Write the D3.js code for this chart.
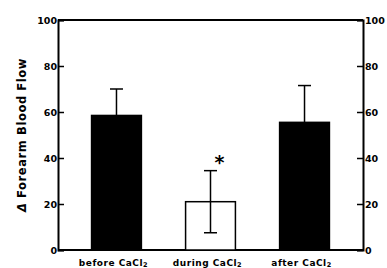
<!DOCTYPE html>
<html>
<head>
<meta charset="utf-8">
<script src="https://cdn.jsdelivr.net/npm/d3@7"></script>
<style>
body { margin: 0; background: #fff; }
text { font-family: "DejaVu Sans", sans-serif; font-weight: bold; fill: #000; }
</style>
</head>
<body>
<svg id="chart" width="387" height="268"></svg>
<script>
const categories = ["before", "during", "after"];
const means = [58.5, 21, 55.5];
const errUp = [70, 34.5, 71.5];
const errDown = [null, 7.5, null];
const filled = [true, false, true];
const yTicks = [0, 20, 40, 60, 80, 100];

const svg = d3.select("#chart"),
	margin = {top: 20, right: 24, bottom: 18, left: 58},
	width = 387,
	height = 268;

const x = d3.scaleBand()
	.domain(categories)
	.range([margin.left, width - margin.right])
	.paddingInner(0.47)
	.paddingOuter(0.357);

const y = d3.scaleLinear()
	.domain([0, 100])
	.range([height - margin.bottom, margin.top]);

// frame: top and bottom lines
const frame = svg.append("g").attr("stroke", "#000").attr("stroke-width", 2);
frame.append("line")
	.attr("x1", margin.left).attr("x2", width - margin.right)
	.attr("y1", y(100)).attr("y2", y(100));
frame.append("line")
	.attr("x1", margin.left).attr("x2", width - margin.right)
	.attr("y1", y(0)).attr("y2", y(0));

const leftAxis = svg.append("g")
	.attr("transform", `translate(${margin.left},0)`)
	.call(d3.axisRight(y).tickValues(yTicks).tickSize(6).tickFormat(""));
leftAxis.select(".domain").attr("stroke-width", 2);
leftAxis.selectAll(".tick line").attr("stroke-width", 1.5);

const rightAxis = svg.append("g")
	.attr("transform", `translate(${width - margin.right},0)`)
	.call(d3.axisLeft(y).tickValues(yTicks).tickSize(6).tickFormat(""));
rightAxis.select(".domain").attr("stroke-width", 2);
rightAxis.selectAll(".tick line").attr("stroke-width", 1.5);

// tick labels
svg.append("g").selectAll("text")
	.data(yTicks)
	.join("text")
	.attr("x", margin.left - 1)
	.attr("y", d => y(d) + 3.5)
	.attr("text-anchor", "end")
	.attr("font-size", 9.5)
	.text(d => d);

svg.append("g").selectAll("text")
	.data(yTicks)
	.join("text")
	.attr("x", width - margin.right + 2)
	.attr("y", d => y(d) + 3.5)
	.attr("text-anchor", "start")
	.attr("font-size", 9.5)
	.text(d => d);

// bars
svg.append("g").selectAll("rect")
	.data(categories)
	.join("rect")
	.attr("x", d => x(d))
	.attr("width", x.bandwidth())
	.attr("y", (d, i) => y(means[i]))
	.attr("height", (d, i) => y(0) - y(means[i]))
	.attr("fill", (d, i) => filled[i] ? "#000" : "#fff")
	.attr("stroke", "#000")
	.attr("stroke-width", 1.5);

// error bars
const cap = 6.5;
const eb = svg.append("g").attr("stroke", "#000").attr("stroke-width", 1.5);
categories.forEach((c, i) => {
	const cx = x(c) + x.bandwidth() / 2;
	const lo = errDown[i] == null ? means[i] : errDown[i];
	eb.append("line")
		.attr("x1", cx).attr("x2", cx)
		.attr("y1", y(lo)).attr("y2", y(errUp[i]));
	eb.append("line")
		.attr("x1", cx - cap).attr("x2", cx + cap)
		.attr("y1", y(errUp[i])).attr("y2", y(errUp[i]));
	if (errDown[i] != null) {
		eb.append("line")
			.attr("x1", cx - cap).attr("x2", cx + cap)
			.attr("y1", y(errDown[i])).attr("y2", y(errDown[i]));
	}
});

// significance marker
svg.append("text")
	.attr("x", x("during") + x.bandwidth() / 2 + 9)
	.attr("y", y(errUp[1]) - 2)
	.attr("text-anchor", "middle")
	.attr("font-size", 19)
	.text("*");

// category labels
const xl = svg.append("g").selectAll("text")
	.data(categories)
	.join("text")
	.attr("x", d => x(d) + x.bandwidth() / 2 - 3)
	.attr("y", height - 2)
	.attr("text-anchor", "middle")
	.attr("font-size", 9)
	.attr("letter-spacing", 0.5);
xl.append("tspan").text(d => d + " CaCl");
xl.append("tspan").attr("font-size", 6.5).attr("dy", 1).text("2");

// y label
svg.append("text")
	.attr("transform", `translate(26,${(y(0) + y(100)) / 2}) rotate(-90)`)
	.attr("text-anchor", "middle")
	.attr("font-size", 11.5)
	.attr("letter-spacing", 0.6)
	.html('<tspan font-style="italic">Δ</tspan> Forearm Blood Flow');
</script>
</body>
</html>
